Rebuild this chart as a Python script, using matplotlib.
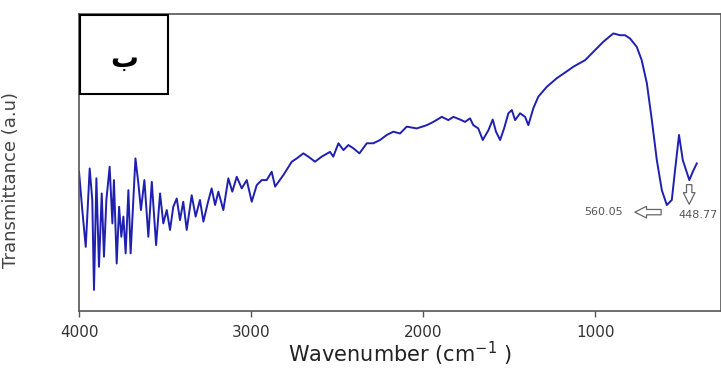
import matplotlib.pyplot as plt
from matplotlib.patches import Rectangle, FancyArrowPatch

# spectrum (wavenumber, transmittance in arbitrary units)
wn = [4000, 3981, 3961, 3938, 3923, 3913, 3899, 3884, 3868, 3855, 3841,
      3822, 3806, 3797, 3781, 3767, 3754, 3742, 3729, 3713, 3700, 3684,
      3672, 3655, 3640, 3620, 3597, 3577, 3552, 3529, 3510, 3490, 3471,
      3452, 3432, 3413, 3394, 3374, 3345, 3322, 3297, 3277, 3252, 3229,
      3209, 3190, 3161, 3132, 3109, 3083, 3054, 3025, 2996, 2967, 2938,
      2909, 2880, 2860, 2812, 2763, 2734, 2696, 2667, 2628,
      2589, 2541, 2522, 2492, 2463, 2434, 2405, 2370, 2327, 2289, 2250,
      2211, 2173, 2134, 2095, 2037, 1978, 1940, 1891, 1853, 1824, 1785,
      1756, 1727, 1708, 1679, 1653, 1620, 1595, 1576, 1552, 1529, 1504,
      1484, 1465, 1436, 1407, 1388, 1359, 1330, 1281, 1223, 1155, 1126,
      1058, 1010, 952, 894, 855, 826, 797, 758, 729, 699, 670, 641, 612,
      583, 554, 535, 512, 490, 471, 452, 432, 409]
trans = [46.9, 34.0, 21.6, 48.0, 37.4, 7.1, 44.7, 14.9, 39.6, 18.3, 37.4,
         48.6, 29.5, 44.1, 16.0, 35.1, 25.0, 31.8, 19.4, 40.7, 19.4, 37.4,
         51.4, 43.0, 34.0, 44.1, 25.0, 43.5, 22.2, 39.6, 29.5, 34.0, 27.3,
         35.1, 37.9, 30.6, 36.8, 27.3, 39.0, 31.8, 37.4, 30.1, 36.3, 41.3,
         35.7, 40.2, 34.0, 44.7, 40.2, 45.2, 41.3, 44.1, 36.8, 42.4, 44.1,
         44.1, 46.9, 41.9, 45.8, 50.3, 51.4, 53.1, 52.0, 50.3,
         52.0, 53.6, 52.0, 56.5, 54.2, 55.9, 54.8, 53.1, 56.5, 56.5, 57.6,
         59.3, 60.4, 59.8, 62.1, 61.5, 62.6, 63.7, 65.4, 64.3, 65.4, 64.5,
         63.7, 64.9, 62.6, 61.5, 57.6, 60.9, 64.5, 60.4, 57.6, 61.5, 66.6,
         67.7, 64.3, 66.6, 65.4, 62.6, 68.3, 72.2, 75.5, 78.4, 81.1, 82.3,
         84.5, 87.3, 90.7, 93.5, 92.9, 92.9, 91.8, 89.0, 84.5, 76.7, 64.3,
         50.8, 40.7, 35.7, 37.4, 47.5, 59.3, 50.8, 47.5, 44.1, 46.9, 49.7]

xticks = [4000, 3000, 2000, 1000]
peak_labels = ['560.05', '448.77']

fig = plt.figure(figsize=(7.21, 3.72), dpi=100)
ax = fig.add_axes([0.1096, 0.164, 0.8904, 0.798])

ax.plot(wn, trans, color='#1f1fb0', lw=1.4)
ax.set_xlim(4000, 268)
ax.set_ylim(0, 100)
ax.set_xticks(xticks)
ax.set_yticks([])
ax.tick_params(axis='x', direction='out', length=4, width=1, colors='#555555',
               labelsize=11, labelcolor='#333333', pad=6)
for s in ax.spines.values():
    s.set_color('#555555')
    s.set_linewidth(1.2)

ax.set_xlabel('Wavenumber (cm$^{\\mathregular{-1}}$ )', fontsize=15,
              color='#222222', labelpad=0)
ax.set_ylabel('Transmittance (a.u)', fontsize=13, color='#444444')
ax.yaxis.set_label_coords(-0.092, 0.44)

# label box in the corner
ax.add_patch(Rectangle((0.002, 0.73), 0.137, 0.267, transform=ax.transAxes,
                       fill=False, edgecolor='black', lw=1.5, zorder=5))
ax.text(0.07, 0.85, 'ب', transform=ax.transAxes, fontsize=20,
        fontweight='bold', ha='center', va='center')

# peak markers
arr = dict(arrowstyle='simple,head_length=0.7,head_width=0.7,tail_width=0.32',
           mutation_scale=12, facecolor='white', edgecolor='#666666', lw=0.9)
ax.add_patch(FancyArrowPatch((600, 33.3), (785, 33.3), **arr))
ax.add_patch(FancyArrowPatch((453, 43.5), (453, 35.0), **arr))
ax.text(840, 33.3, peak_labels[0], ha='right', va='center', fontsize=8,
        color='#555555')
ax.text(517, 32.5, peak_labels[1], ha='left', va='center', fontsize=8,
        color='#555555')

fig.savefig('out.png')
